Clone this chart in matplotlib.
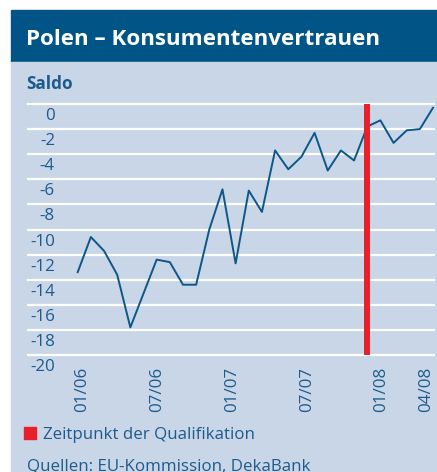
import matplotlib
matplotlib.use("Agg")
import matplotlib.pyplot as plt
from matplotlib.patches import Rectangle

plt.rcParams['font.family'] = ['Open Sans', 'DejaVu Sans']

# Konsumentenvertrauen Polen, Saldo, monatlich 01/2006 - 04/2008
months = list(range(28))
saldo = [-13.4, -10.6, -11.7, -13.6, -17.8, -15.1, -12.4, -12.6, -14.4, -14.4,
         -10.0, -6.8, -12.7, -6.9, -8.6, -3.7, -5.2, -4.2, -2.3, -5.3,
         -3.7, -4.5, -1.8, -1.3, -3.1, -2.1, -2.0, -0.3]
y_ticks = list(range(0, -21, -2))
x_tick_pos = [0.3, 6.0, 11.7, 17.4, 23.05, 26.45]
x_tick_labels = ["01/06", "07/06", "01/07", "07/07", "01/08", "04/08"]
qualification_month = 22

W, H = 437, 472
fig = plt.figure(figsize=(W / 100, H / 100), dpi=100)

header_col = "#005586"
panel_col = "#c9d6e7"
text_col = "#1d5b8c"
line_col = "#0c5788"
red = "#e8202a"
fs = 12.2

def px(x, y):
    return x / W, 1 - y / H

# background boxes
fig.patches.append(Rectangle(px(11, 62), 426 / W, 52 / H, transform=fig.transFigure,
                             color=header_col, zorder=0))
fig.patches.append(Rectangle(px(11, 472), 426 / W, 410 / H, transform=fig.transFigure,
                             color=panel_col, zorder=0))

fig.text(*px(26, 45), "Polen \u2013 Konsumentenvertrauen", color="white",
         fontsize=16.1, fontweight="bold", va="baseline", ha="left")
fig.text(*px(26, 89), "Saldo", color=text_col, fontsize=12.3, fontweight="bold",
         va="baseline", ha="left")

# plot area
x0, x1 = 27, 435
ytop, ybot = 104, 355
pad = 0.15
ppu = (ybot - ytop) / 20
ax = fig.add_axes([x0 / W, 1 - (ybot + pad * ppu) / H, (x1 - x0) / W,
                   (ybot - ytop + 2 * pad * ppu) / H])
ax.set_zorder(5)
ax.set_facecolor("none")
ax.set_xlim((x0 - 77.7) / 13.16, (x1 - 77.7) / 13.16)
ax.set_ylim(-20 - pad, pad)
for s in ax.spines.values():
    s.set_visible(False)
ax.set_xticks([])
ax.set_yticks([])

for v in y_ticks:
    ax.axhline(v, color="white", lw=1.6, zorder=1)
    ax.annotate(str(v), xy=(0, v), xycoords=("axes fraction", "data"),
                xytext=(28 * 0.72, -12 * 0.72), textcoords="offset points",
                ha="right", va="center", fontsize=fs, color=text_col,
                annotation_clip=False)

ax.plot(months, saldo, color=line_col, lw=1.4, zorder=2)
ax.plot([qualification_month, qualification_month], [-20, 0], color=red, lw=4.3,
        solid_capstyle="butt", zorder=3)

for pos, lab in zip(x_tick_pos, x_tick_labels):
    ax.annotate(lab, xy=(pos, -20), xycoords="data", xytext=(0, -12 * 0.72),
                textcoords="offset points", rotation=90, ha="center", va="top",
                fontsize=fs, color=text_col, annotation_clip=False)

# legend and source
fig.patches.append(Rectangle(px(24, 439), 12 / W, 12 / H, transform=fig.transFigure,
                             color=red, zorder=1))
fig.text(*px(43, 439), "Zeitpunkt der Qualifikation", color=text_col, fontsize=fs,
         va="baseline", ha="left")
fig.text(*px(27, 470.5), "Quellen: EU-Kommission, DekaBank", color=text_col,
         fontsize=fs, va="baseline", ha="left")

fig.savefig("out.png", dpi=100)
